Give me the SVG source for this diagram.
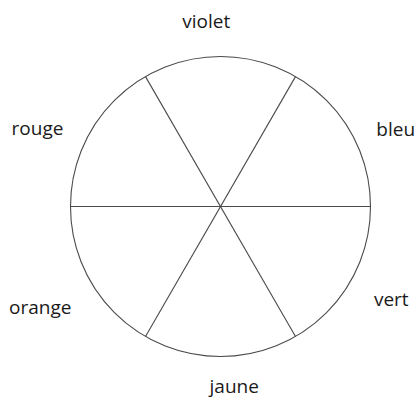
<svg xmlns="http://www.w3.org/2000/svg" width="417" height="403" viewBox="0 0 417 403">
<style>
.lbl{font-family:"Open Sans","Noto Sans",sans-serif;font-size:19px;fill:#1a1a1a;text-anchor:middle}
.ln{stroke:#4a4a4a;stroke-width:1.1;fill:none}
</style>
<rect width="417" height="403" fill="#ffffff"/>
<g id="wheel">
<circle class="ln" cx="220.5" cy="206.5" r="150"/>
</g>
<g id="connectors">
<line class="ln" x1="70.5" y1="206.5" x2="370.5" y2="206.5"/>
<line class="ln" x1="145.5" y1="76.6" x2="295.5" y2="336.4"/>
<line class="ln" x1="295.5" y1="76.6" x2="145.5" y2="336.4"/>
</g>
<g id="violet"><text class="lbl" x="206.2" y="28.3">violet</text></g>
<g id="rouge"><text class="lbl" x="37.5" y="135">rouge</text></g>
<g id="bleu"><text class="lbl" x="395.7" y="135.7">bleu</text></g>
<g id="orange"><text class="lbl" x="40.2" y="314.3">orange</text></g>
<g id="vert"><text class="lbl" x="391.3" y="305.7">vert</text></g>
<g id="jaune"><text class="lbl" x="234.2" y="393">jaune</text></g>
</svg>
